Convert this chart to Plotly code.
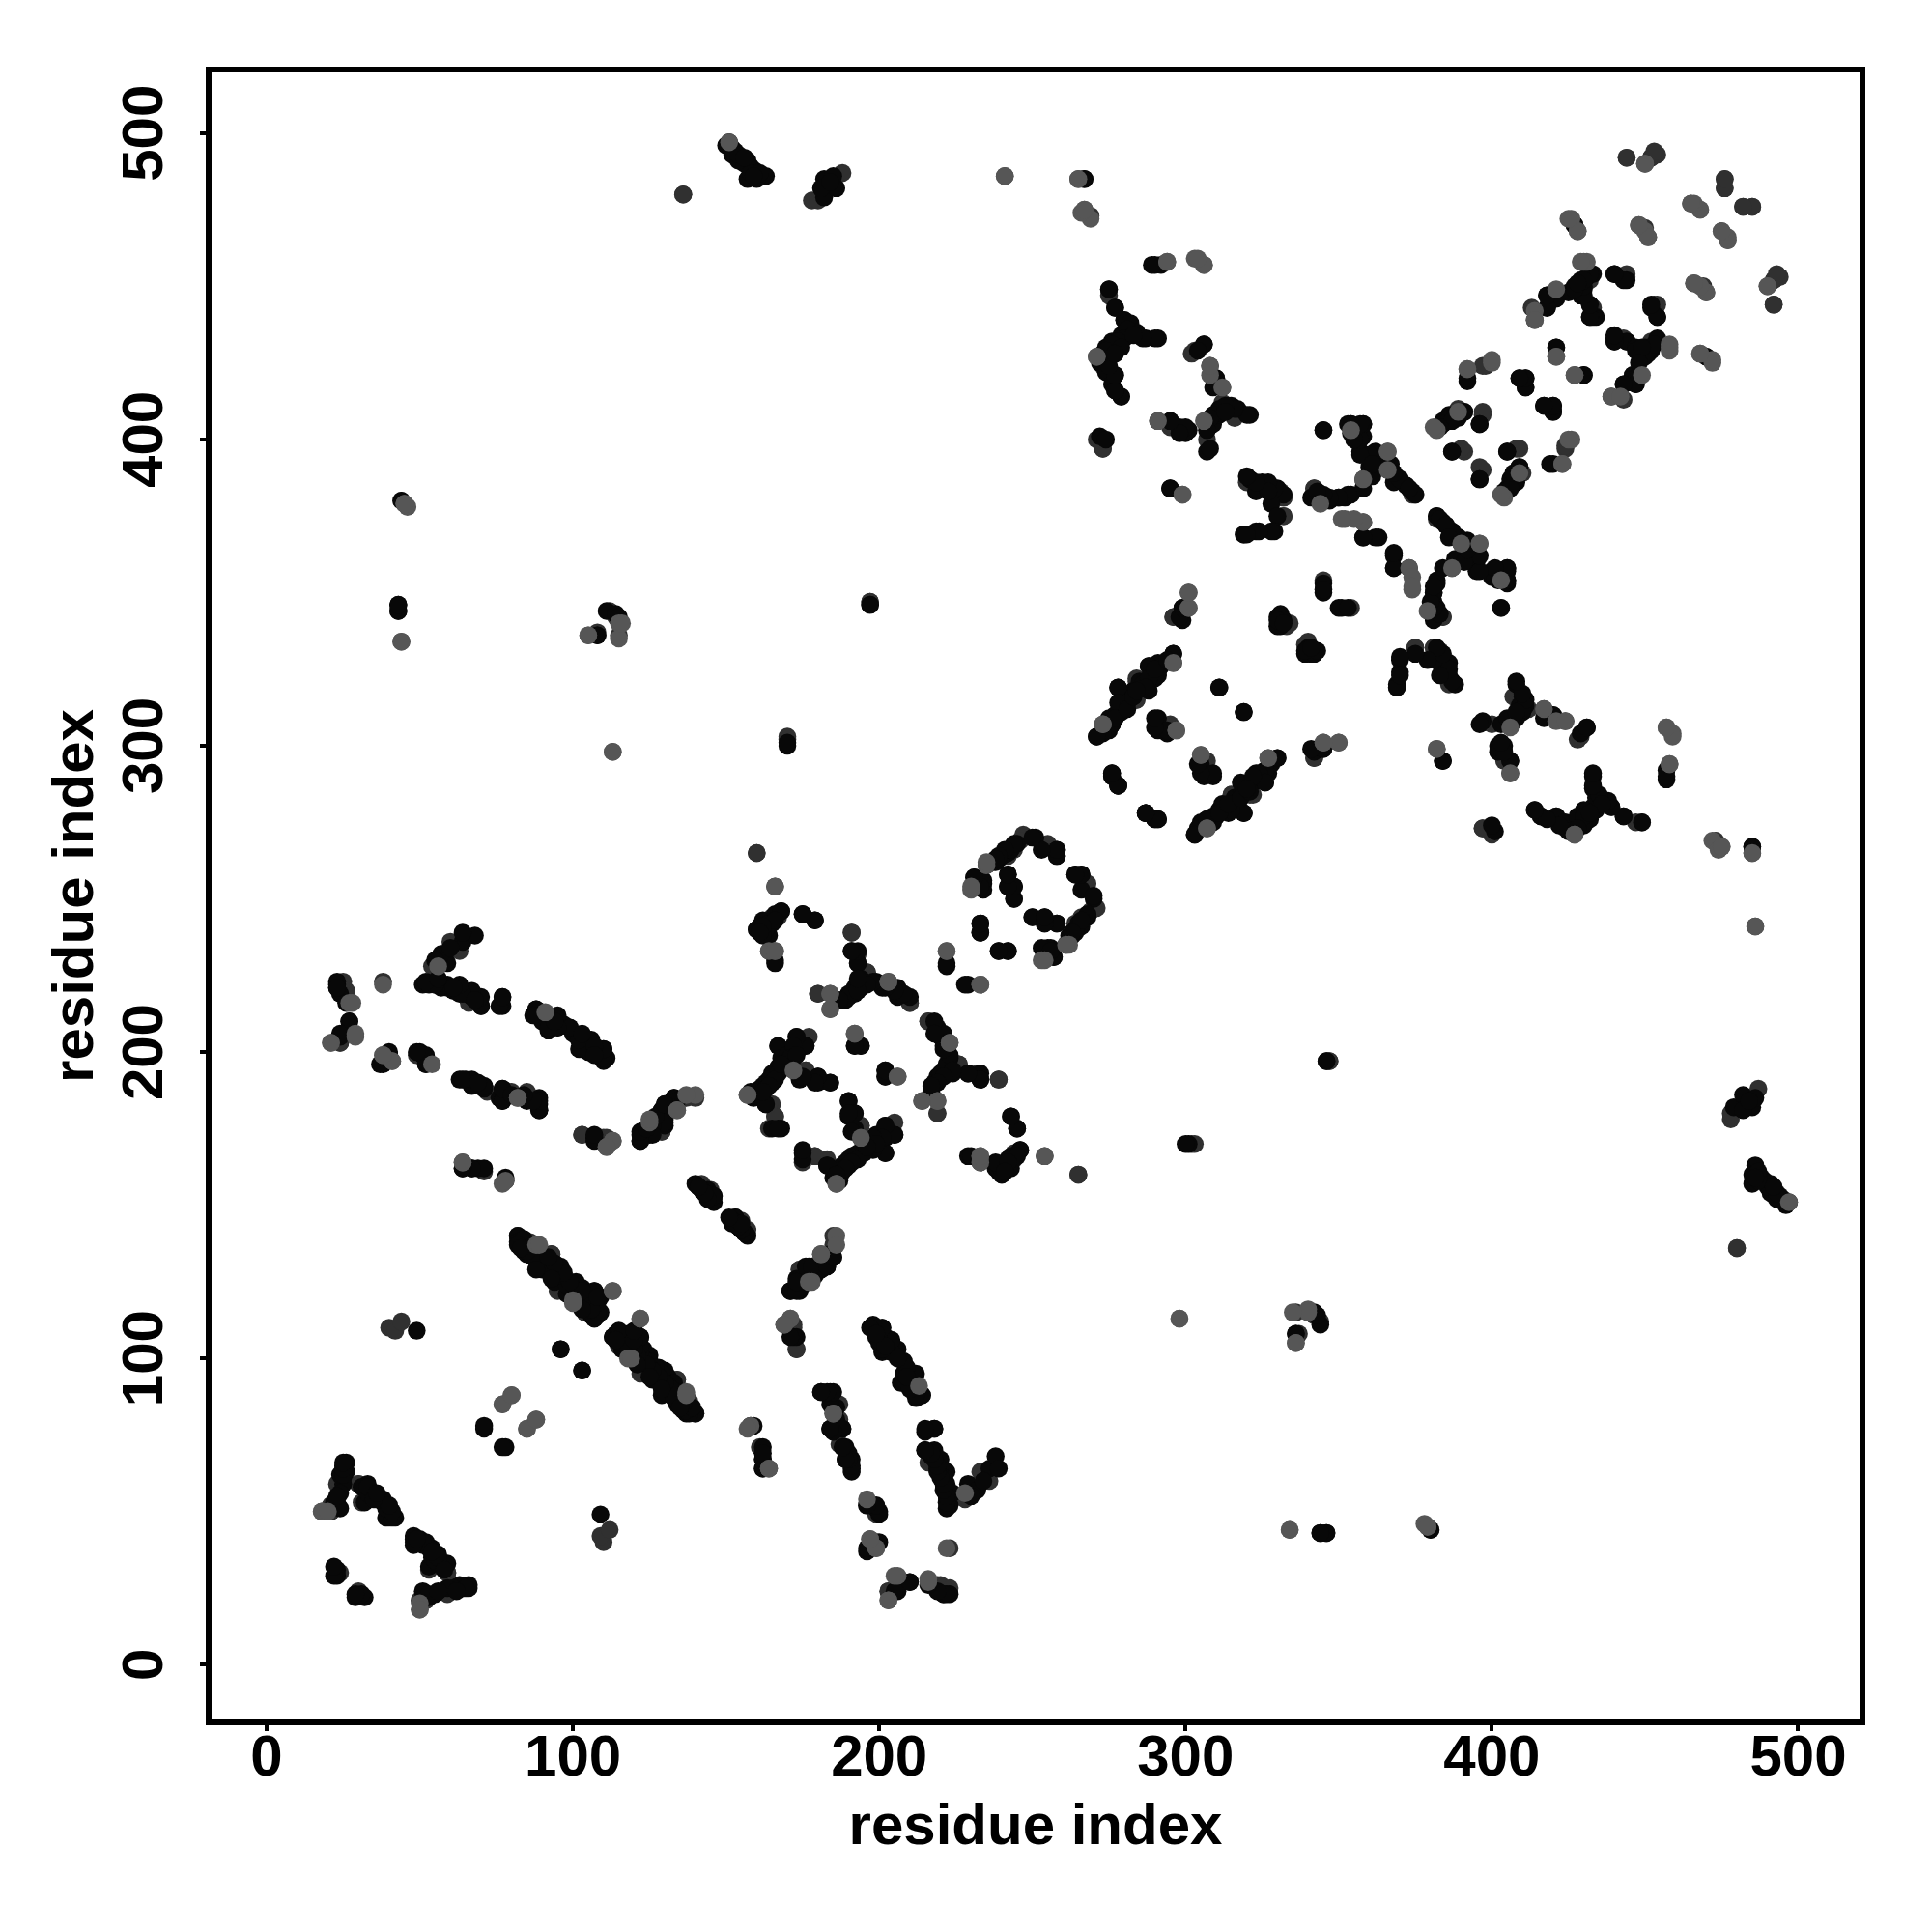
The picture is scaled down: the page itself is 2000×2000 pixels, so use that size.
import plotly.graph_objects as go

tick_values = [0, 100, 200, 300, 400, 500]
axis_label = "residue index"

# contacts as (residue a, residue b); the map is symmetric
dark_contacts = [
 (26,66),(26,63),(25,61),(25,59),(23,53),(33,59),(34,55),(38,53),(40,51),(39,48),(42,48),(48,41),(51,39),(54,38),(53,32),(56,33),(58,33),(53,22),(62,25),(64,25),(66,25),(23,31),(23,29),(29,22),(32,22),
 (35,56),(37,54),(41,49),(50,41),(52,40),(54,35),(56,36),(51,24),(55,23),(25,65),(24,62),(24,56),(31,58),
 (23,222),(23,221),(24,219),(26,216),(27,210),(24,205),(51,222),(53,222),(55,222),(57,221),(59,221),(61,220),(63,219),(65,219),(67,218),(69,217),(70,215),(77,218),(77,215),
 (88,214),(88,212),(92,211),(95,211),(92,207),(95,208),(97,209),(102,204),(106,204),(103,201),(106,200),(110,201),(111,198),(110,197),(90,210),(94,209),(100,206),(104,202),(108,199),
 (40,200),(38,196),(50,200),(52,199),(52,196),(63,191),(65,191),(67,190),(67,189),(71,188),(77,188),(76,185),(77,184),(85,184),(89,185),(89,183),(89,181),
 (107,172),(107,171),(122,171),(122,173),(125,173),(129,181),(130,176),(130,178),(130,183),(133,185),(64,162),(67,162),(69,162),(78,158),
 (141,156),(144,153),(146,153),(145,152),(153,146),(152,144),(157,140),(155,142),(142,155),(143,154),(144,155),(146,151),(154,143),(156,141),
 (82,140),(82,138),(83,137),(85,134),(86,136),(89,134),(88,132),(89,130),(91,131),(93,127),(95,129),(97,127),(97,125),(100,123),(102,122),(104,122),(107,122),(107,118),(108,116),(108,114),(107,113),(105,116),
 (84,139),(85,136),(87,133),(90,132),(92,130),(94,128),(96,126),(98,124),(101,121),(103,120),(105,119),(106,117),(109,115),(84,135),(90,129),(94,125),(98,121),(102,119),(104,118),(106,120),(109,120),(106,114),
 (113,107),(115,108),(118,108),(120,106),(122,107),(123,103),(123,99),(118,104),(125,101),(126,97),(130,96),(127,93),(128,94),(130,92),(130,89),(132,90),(134,86),(137,82),
 (116,106),(119,103),(121,101),(124,98),(127,96),(129,94),(131,91),(133,88),(135,85),(136,83),(122,103),(125,99),(128,97),(131,94),(116,103),(133,92),(120,108),(126,93),(129,88),
 (96,103),(103,96),(49,109),(71,77),(78,71),(159,78),(162,71),(162,67),(162,64),
 (185,133),(184,134),(182,132),(181,129),(177,130),(176,126),(173,126),(171,122),(174,122),(173,107),(179,127),(175,124),(183,130),
 (198,110),(201,110),(204,105),(200,105),(201,102),(204,102),(208,99),(212,95),(208,95),(208,92),(214,88),(212,87),(202,107),(199,107),(206,103),(210,94),
 (181,89),(184,89),(184,87),(189,71),(189,67),(191,67),(191,64),(184,77),(188,77),(186,84),(186,80),(190,69),
 (215,76),(218,77),(215,70),(218,70),(220,67),(219,64),(222,63),(222,59),(222,55),(223,52),(229,59),(232,57),(236,64),(238,68),(239,64),(217,68),(221,61),(224,56),(230,55),(234,60),
 (199,51),(200,49),(199,40),(196,37),(210,27),(206,24),(223,23),(221,23),
 (168,246),(162,243),(160,240),(163,239),(164,238),(166,230),(175,245),(179,243),(191,233),(193,229),(199,223),(201,221),(206,221),(210,218),(206,218),(194,224),(192,221),(190,219),(189,217),(166,245),(164,242),(161,241),
 (219,208),(220,205),(221,202),(223,198),(221,194),(229,193),(233,193),(233,191),(219,192),(218,190),(217,187),(243,179),(245,175),(222,196),(220,193),(224,193),
 (192,202),(194,202),(202,194),(202,192),(222,228),(229,222),
 (173,205),(176,202),(167,202),(172,201),(168,198),(172,198),(167,195),(165,193),(174,191),(180,192),(180,190),(163,190),(161,188),(158,187),(159,185),(163,183),(165,175),(168,175),(170,199),(169,196),(164,191),(162,189),(160,186),
 (190,184),(192,180),(190,179),(192,175),(202,176),(205,173),(202,172),(198,171),(195,170),(193,167),(190,165),(188,163),(186,161),(187,159),(175,167),(183,163),(191,166),(189,164),(187,162),(199,173),(196,168),
 (229,166),(246,168),(242,165),(240,163),(238,162),(240,160),(243,166),(241,162),(239,161),
 (251,270),(258,266),(258,264),(242,265),(240,264),(238,262),(235,261),(231,257),(234,255),(234,253),(242,258),(242,254),(244,254),(264,258),(266,258),(266,253),(270,250),(262,237),(256,234),(254,233),(257,231),(245,268),(243,266),(239,263),(233,256),
 (250,244),(254,244),(254,242),(258,242),(233,242),(233,239),(239,233),(242,233),(278,287),(276,290),(287,278),(290,276),(268,244),(266,241),(264,239),(263,238),
 (299,345),(299,341),(292,326),(291,324),(288,326),(288,318),(278,319),(279,315),(277,310),(275,309),(274,305),(271,303),(296,330),(276,307),(278,311),(281,314),(283,318),(285,321),(290,322),(286,320),
 (311,319),(319,311),(291,309),(291,305),(294,304),(276,291),(278,287),(287,278),(291,276),
 (305,294),(306,290),(309,290),(330,296),(327,291),(323,291),(326,288),(322,288),(319,287),(314,280),(311,279),(319,278),(314,278),(307,276),(305,275),(304,273),(303,271),(309,277),(312,281),(316,283),(318,284),(325,290),(328,294),
 (342,298),(345,299),(384,295),(416,277),
 (345,350),(345,353),(351,345),(330,342),(331,343),(331,339),(339,330),(341,330),(332,341),(340,332),
 (370,328),(370,324),(369,320),(384,329),(386,327),(383,327),(386,323),(388,320),(408,320),
 (368,362),(368,358),(382,353),(381,350),(381,347),(382,345),(381,341),(395,360),(395,357),(401,356),(405,358),(405,353),(402,354),
 (410,316),(417,309),(410,311),(408,309),(407,308),(397,308),(403,307),(431,306),(429,304),(402,300),(404,300),(402,298),(406,295),(411,313),(409,313),
 (457,292),(457,289),(433,290),(433,286),(433,280),(432,278),(431,276),(429,274),(443,277),(416,277),(421,277),(424,275),(485,267),(434,283),(430,279),(428,277),
 (427,470),(433,454),(429,452),(427,450),(429,447),(432,440),(434,440),(421,448),(418,447),(418,443),(440,454),(444,452),(452,443),(454,440),(431,453),(430,449),(425,448),
 (440,433),(440,432),(444,432),(447,430),(454,432),(450,430),(449,427),(446,421),(443,418),(447,418),(421,430),(430,421),(470,427),(452,430),(451,428),
 (392,419),(409,420),(411,420),(411,417),(417,411),(420,411),(420,409),(420,392),(396,405),(386,408),(384,406),(389,407),(387,396),(405,396),(396,387),(409,391),(407,386),(405,384),(408,388),(406,387),(404,383),
 (345,403),(354,405),(358,405),(355,401),(358,401),(357,396),(362,396),(360,391),(364,392),(368,389),(370,387),(374,383),(345,381),(350,381),(354,382),(358,384),(358,368),(363,368),(366,390),(372,385),(368,386),(347,380),(352,381),
 (321,387),(325,386),(330,384),(332,382),(323,383),(328,379),(330,375),(319,369),(323,370),(329,370),(295,384),
 (295,406),(298,404),(301,403),(272,401),(274,400),(307,396),(309,407),(312,410),(315,411),(317,410),(321,408),(309,405),(306,431),(310,420),(311,408),
 (275,449),(277,443),(280,439),(282,438),(284,435),(287,433),(291,433),(279,434),(276,432),(274,430),(272,425),(274,422),(276,418),(279,414),(277,430),(281,436),(278,432),(273,428),
 (382,375),(385,372),(387,370),(392,367),(388,361),(392,361),(400,357),(405,357),(405,354),(400,355),(383,343),(384,373),(389,368),
 (43,346),(43,344),(108,336),(111,344),(114,343),(115,342),(170,300),(197,346),(336,108),(344,43),(346,43),(346,197),(380,44),(301,170),(267,485),
 (151,497),(152,495),(153,494),(155,492),(157,491),(158,489),(159,488),(160,487),(163,486),(157,485),(182,485),(182,479),(186,482),(185,486),(181,482),(184,484),(290,457),(150,496),(152,493),(154,491),(156,490),(158,487),(160,485),(161,487),(154,493),(156,492),(159,486),
]
mid_contacts = [
 (23,59),(21,52),(21,50),(30,59),(31,53),(36,54),(48,40),(59,30),(59,24),(24,30),(30,23),(40,110),(42,109),(44,112),(52,21),(50,21),
 (25,221),(26,219),(24,203),(66,216),(91,212),(99,208),(104,202),(49,199),(79,187),(85,186),(72,187),(103,173),(110,172),(129,174),(136,185),(137,185),(140,185),
 (71,161),(142,156),(143,155),(155,145),(157,142),(154,145),(85,137),(93,134),(95,122),(104,115),(115,104),(123,96),(134,93),(138,86),(140,82),(136,84),
 (174,129),(185,136),(173,103),(172,111),(187,85),(187,80),(228,54),(233,63),(236,60),(196,52),(223,38),(203,24),(217,26),(220,26),(223,25),
 (160,265),(165,244),(191,239),(193,232),(196,226),(210,216),(180,219),(216,210),(226,196),(239,191),(219,180),
 (254,166),(265,160),(233,164),(244,167),(172,194),(176,194),(184,190),(165,183),(166,179),(194,176),(205,177),(202,167),(175,164),(179,166),(183,164),
 (247,270),(255,267),(244,267),(268,255),(271,247),(269,246),(244,250),(266,244),(264,242),
 (296,342),(284,321),(296,327),(284,315),(295,307),(306,295),(322,284),(315,284),(310,277),(342,296),
 (397,273),(400,273),(400,271),(414,279),(339,333),(342,331),(334,340),(354,345),(369,319),(375,332),(381,332),(383,331),(386,320),(384,342),(388,360),(403,345),
 (407,316),(412,312),(420,310),(400,307),(428,302),(404,295),(435,283),(439,280),(447,275),(449,275),(427,272),(421,277),(424,273),
 (444,492),(452,492),(454,493),(476,485),(476,482),(482,476),(485,476),(433,443),(414,439),(444,453),(454,444),(452,432),(444,432),(446,421),(443,413),(469,450),(492,452),(494,453),(492,444),
 (398,424),(424,397),(397,408),(391,409),(391,396),(397,390),(409,397),(410,389),(375,382),
 (342,384),(358,373),(332,381),(332,375),(291,406),(273,397),(303,429),(308,424),(312,417),(358,387),(374,382),
 (44,380),(136,480),(178,478),(188,487),(241,486),(265,485),(269,473),(170,302),(197,347),(108,337),(336,115),(342,114),(344,112),(303,170),(347,197),(180,478),(480,136),
]
light_contacts = [
 (18,50),(50,18),(50,20),(27,216),(29,205),(21,203),(38,222),(38,199),(41,197),(54,196),(82,185),(113,171),(111,169),(125,177),(134,181),(64,164),(77,157),
 (88,137),(100,119),(113,122),(122,113),(118,100),(137,89),(77,85),(80,88),(85,77),(88,80),(158,78),
 (186,140),(186,137),(181,134),(178,125),(164,64),(171,113),(169,111),(213,91),(185,82),(228,56),(197,41),(199,38),(206,29),(203,21),(216,28),
 (166,254),(164,233),(166,233),(203,223),(184,219),(184,214),(223,203),(214,184),(219,184),(233,166),(192,206),(206,192),(222,233),(233,222),(157,186),(194,172),(186,157),
 (235,261),(230,253),(262,235),(254,230),(301,350),(301,345),(273,307),(297,305),(305,297),(327,296),(307,273),(345,301),(350,301),(382,299),
 (373,358),(374,355),(374,351),(379,344),(396,366),(390,366),(387,358),(403,354),(406,306),(417,312),(421,308),(424,308),(406,291),(457,306),(459,304),(458,294),(472,269),(474,266),(475,267),(485,265),(486,241),(427,271),
 (450,490),(465,477),(468,475),(475,468),(477,466),(477,465),(426,472),(428,468),(448,470),(450,468),(451,466),(430,458),(414,442),(458,431),(458,429),(449,421),(439,414),(421,427),(427,421),(466,451),(470,448),(490,450),(468,428),(472,425),
 (400,425),(392,423),(426,400),(423,392),(389,409),(382,403),(404,381),
 (366,396),(352,374),(299,382),(267,475),(294,458),(303,459),(306,457),(271,427),(46,378),(45,379),(44,334),(113,298),(105,336),(115,340),(115,335),(298,113),(336,105),(340,116),(334,44),(379,45),(497,151),
]

shades = {"dark": "#080808", "mid": "#303030", "light": "#565656"}
groups = [("mid", mid_contacts), ("dark", dark_contacts), ("light", light_contacts)]

fig = go.Figure()
for name, contacts in groups:
    a = [c[0] for c in contacts]
    b = [c[1] for c in contacts]
    fig.add_trace(go.Scatter(
        x=a + b, y=b + a, mode="markers", name=name, showlegend=False,
        marker=dict(size=18.5, color=shades[name], line=dict(width=0)),
    ))

label_font = dict(family="Liberation Sans", size=60, color="black", weight="bold")
axis_style = dict(
    tickmode="array", tickvals=tick_values, ticktext=[str(v) for v in tick_values],
    ticks="outside", ticklen=6, tickwidth=3.5, tickcolor="black",
    showline=True, linecolor="black", linewidth=6, mirror=True,
    showgrid=False, zeroline=False, tickfont=label_font,
)
fig.update_xaxes(range=[-17.97, 520.03], ticklabelstandoff=-26,
                 title=dict(text=axis_label, standoff=19, font=label_font),
                 **axis_style)
fig.update_yaxes(range=[-17.9, 519.8], tickangle=-90, ticklabelstandoff=15, ticklabelshift=9,
                 title=dict(text=axis_label, standoff=0, font=label_font),
                 **axis_style)
fig.update_layout(width=2000, height=2000, autosize=False,
                  margin=dict(l=211, r=83, t=67, b=227.5, pad=0, autoexpand=False),
                  paper_bgcolor="white", plot_bgcolor="white")
fig.write_html("out.html")
